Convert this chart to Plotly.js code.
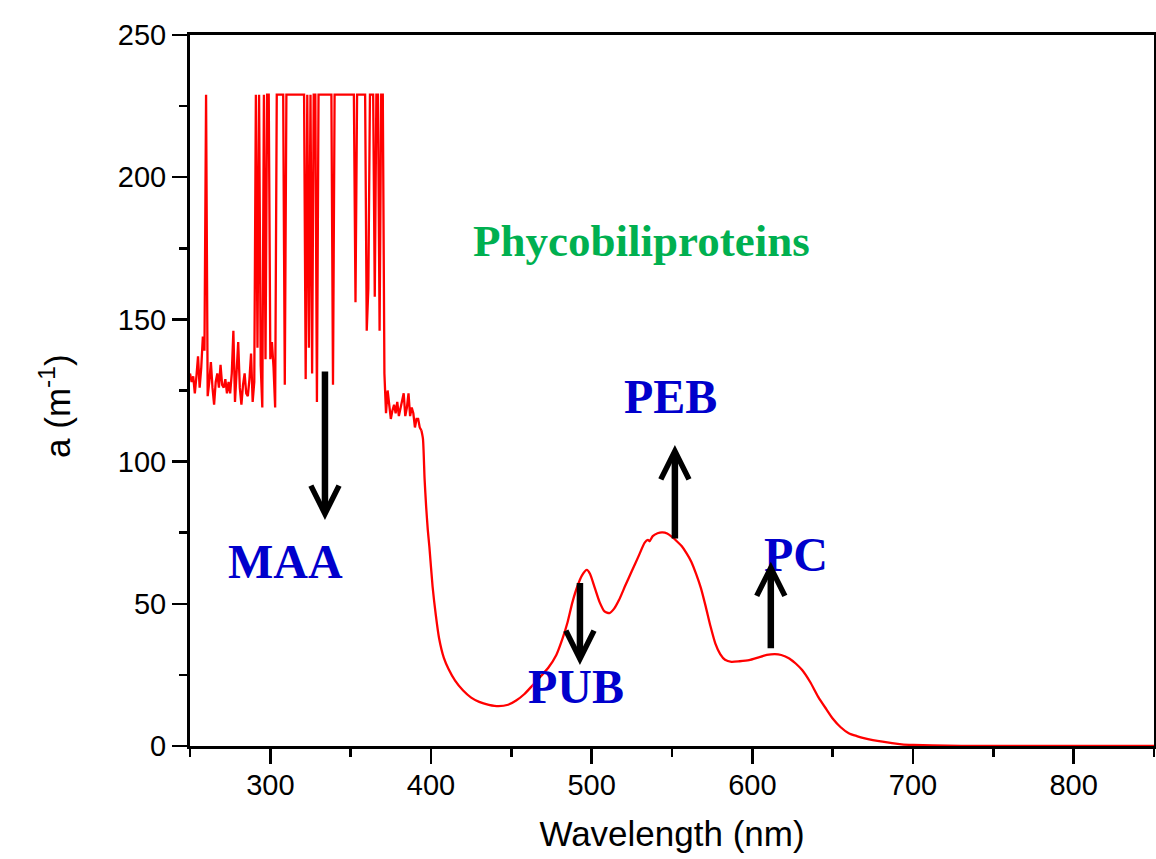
<!DOCTYPE html>
<html><head><meta charset="utf-8">
<script src="https://cdn.plot.ly/plotly-3.0.1.min.js"></script>
<style>html,body{margin:0;padding:0;background:#fff;} #chart{width:1156px;height:859px;}</style>
</head><body><div id="chart"></div>
<script>
// Noisy UV region (MAA), 1 nm steps
const noisyWavelength = [250,251,252,253,254,255,256,257,258,259,260,261,262,263,264,265,266,267,268,269,
270,271,272,273,274,275,276,277,278,279,280,281,282,283,284,285,286,287,288,289,
290,291,292,293,294,295,296,297,298,299,300,301,302,303,304,305,306,307,308,309,
310,311,312,313,314,315,316,317,318,319,320,321,322,323,324,325,326,327,328,329,
330,331,332,333,334,335,336,337,338,339,340,341,342,343,344,345,346,347,348,349,
350,351,352,353,354,355,356,357,358,359,360,361,362,363,364,365,366,367,368,369,
370,371,372,373,374,375,376,377,378,379,380,381,382,383,384,385,386,387,388,389,
390,391,392,393,394];
const noisyAbsorption = [131,128,130,124,130,137,126,133,144,139,229,123,128,135,126,120,128,131,126,134,
127,126,129,124,128,124,131,146,121,130,142,126,120,127,131,124,123,129,138,121,
128,229,140,229,134,119,229,136,229,229,136,142,133,119,229,229,229,229,229,127,
229,229,229,229,229,229,229,229,229,229,229,229,129,229,140,229,131,229,229,121,
229,229,229,229,229,229,229,229,229,127,229,229,229,229,229,229,229,229,229,229,
229,229,229,156,229,229,229,229,229,229,146,161,229,229,229,158,229,229,146,229,
229,131,117,125,119,115,118,120,117,121,116,119,121,124,116,119,124,116,119,117,
112,115,115,112,111];
// Smooth visible region (phycobiliproteins)
const smoothWavelength = [394,395,396,397,398,399,401,403,405,408,411,415,420,425,430,436,442,448,453,458,
463,468,473,478,482,485,488,491,494,497,499,502,505,508,511,514,517,521,525,529,
533,535,536,538,541,544,547,550,553,556,559,562,565,568,571,574,577,580,583,587,
592,598,604,609,614,618,623,627,631,636,641,646,650,655,660,665,670,675,681,687,
693,700,712,730,750,800,850];
const smoothAbsorption = [111,108,94,84,76,70,56,46,38,31,27,23,19.5,17,15.5,14.5,14,14.5,16,18.2,
21.2,24.3,27.5,32,38,43.5,50.5,56,60,61.9,60.5,55.5,50.5,47.3,46.7,48.3,51.3,56.5,61.5,66.5,
71.5,72.5,72.0,73.8,74.8,75.1,74.7,73.5,72.0,70.3,67.8,64.8,60.5,55.5,49.0,42,36,32.3,30.3,29.6,
29.8,30.2,31.2,32,32.3,32,30.8,29,26.7,22.5,17.3,13,9.7,6.6,4.5,3.5,2.7,2.1,1.5,1.0,
0.6,0.4,0.2,0.05,0,0,0];

// Labels
const labelTexts = ['Phycobiliproteins','MAA','PEB','PUB','PC'];
const labelX = [531, 309.4, 549.3, 490.2, 627.4];
const labelY = [177.6, 64.9, 123.0, 21.0, 67.4];
// Arrows: tail (x, yFrom) -> head (x, yTo)
const arrowX = [334, 492.7, 551.8, 611.5];
const arrowFrom = [132.2, 57.8, 72.4, 33.8];
const arrowTo = [79.5, 28.5, 105.8, 64.8];

const traces = [
  {x: noisyWavelength, y: noisyAbsorption, type:'scatter', mode:'lines',
   line:{color:'#ff0000', width:2.3}, hoverinfo:'skip', showlegend:false},
  {x: smoothWavelength, y: smoothAbsorption, type:'scatter', mode:'lines',
   line:{color:'#ff0000', width:2.3, shape:'spline', smoothing:0.6}, hoverinfo:'skip', showlegend:false}
];

const annotations = [];
labelTexts.forEach((t,i)=>{
  const green = i===0;
  annotations.push({x:labelX[i], y:labelY[i], xref:'x', yref:'y', text:'<b>'+t+'</b>', showarrow:false,
    xanchor:'center', yanchor:'middle',
    font:{family:'Liberation Serif, Times New Roman, serif', size: green?45:48, color: green?'#00B050':'#0000CC'}});
});
arrowX.forEach((ax,i)=>{
  annotations.push({x:ax, y:arrowTo[i], ax:ax, ay:arrowFrom[i], xref:'x', yref:'y', axref:'x', ayref:'y',
    text:'', showarrow:true, arrowhead:5, arrowsize:0.85, arrowwidth:6.5, arrowcolor:'#000000', standoff:0});
});
// y-axis title
annotations.push({x:-0.14, y:0.477, xref:'paper', yref:'paper', text:'a (m<sup>-1</sup>)', textangle:-90,
  showarrow:false, xanchor:'center', yanchor:'middle',
  font:{family:'Liberation Sans, Arial, sans-serif', size:35, color:'#000'}});

const axisFont = {family:'Liberation Sans, Arial, sans-serif', size:29, color:'#000'};
const layout = {
  width:1156, height:859,
  margin:{l:190, r:2, t:35, b:113, pad:0},
  paper_bgcolor:'#ffffff', plot_bgcolor:'#ffffff',
  showlegend:false,
  font:{family:'Liberation Sans, Arial, sans-serif', color:'#000'},
  xaxis:{range:[250,850], dtick:100, tick0:0, showgrid:false, zeroline:false,
    showline:true, linecolor:'#000', linewidth:3, mirror:true,
    ticks:'outside', ticklen:15, tickwidth:2.5, tickcolor:'#000', ticklabelstandoff:-4,
    minor:{dtick:50, ticks:'outside', ticklen:8, tickwidth:2.5, tickcolor:'#000', showgrid:false},
    tickfont:axisFont,
    title:{text:'Wavelength (nm)', font:{family:'Liberation Sans, Arial, sans-serif', size:35, color:'#000'}, standoff:22}},
  yaxis:{range:[0,250], dtick:50, tick0:0, showgrid:false, zeroline:false,
    showline:true, linecolor:'#000', linewidth:3, mirror:true,
    ticks:'outside', ticklen:15, tickwidth:2.5, tickcolor:'#000',
    minor:{dtick:25, ticks:'outside', ticklen:8, tickwidth:2.5, tickcolor:'#000', showgrid:false},
    tickfont:axisFont},
  annotations: annotations
};

Plotly.newPlot('chart', traces, layout, {displayModeBar:false, staticPlot:true});
</script>
</body></html>
